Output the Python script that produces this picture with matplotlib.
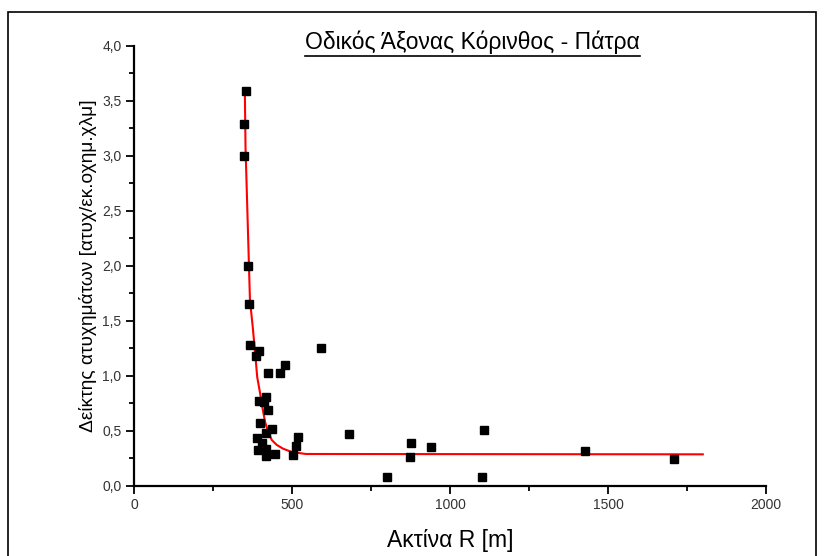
import numpy as np
import matplotlib
matplotlib.use("Agg")
import matplotlib.pyplot as plt
from matplotlib.patches import Rectangle
from matplotlib.ticker import MultipleLocator, FuncFormatter

plt.rcParams['font.family'] = ['Liberation Sans', 'DejaVu Sans']

# accident index vs. curve radius
radius = [353, 347, 348, 360, 365, 367, 396, 386, 591, 478, 462, 424,
          417, 396, 410, 423, 399, 436, 419, 520, 680, 389, 405, 512,
          394, 417, 418, 447, 502, 876, 872, 940, 1108, 1426, 1710, 800, 1100]
index = [3.59, 3.29, 3.00, 2.00, 1.65, 1.28, 1.23, 1.18, 1.25, 1.10, 1.03, 1.03,
         0.81, 0.77, 0.76, 0.69, 0.57, 0.52, 0.48, 0.445, 0.47, 0.44, 0.39, 0.36,
         0.33, 0.34, 0.27, 0.29, 0.28, 0.39, 0.26, 0.355, 0.51, 0.32, 0.245, 0.08, 0.08]

# fitted curve
fit_x = [351, 353, 356, 367, 376, 383, 390, 399, 406, 415, 425, 436, 452, 472, 499, 544, 1800]
fit_y = [3.55, 3.07, 2.78, 1.69, 1.44, 1.22, 0.99, 0.845, 0.72, 0.58, 0.49, 0.418, 0.373, 0.339, 0.309, 0.291, 0.288]

fig = plt.figure(figsize=(8.24, 5.56), dpi=100)
ax = fig.add_axes([0.1626, 0.1259, 0.767, 0.7914])

ax.plot(fit_x, fit_y, color='red', lw=1.5, zorder=2)
ax.plot(radius, index, 's', color='black', ms=5.5, zorder=3)

ax.set_xlim(0, 2000)
ax.set_ylim(0, 4.0)
ax.xaxis.set_major_locator(MultipleLocator(500))
ax.xaxis.set_minor_locator(MultipleLocator(250))
ax.yaxis.set_major_locator(MultipleLocator(0.5))
ax.yaxis.set_minor_locator(MultipleLocator(0.25))
ax.yaxis.set_major_formatter(FuncFormatter(lambda v, p: f"{v:.1f}".replace('.', ',')))

for s in ['top', 'right']:
    ax.spines[s].set_visible(False)
for s in ['left', 'bottom']:
    ax.spines[s].set_linewidth(1.6)
ax.tick_params(which='major', direction='out', length=5.5, width=1.3,
               labelsize=10, labelcolor='#333333')
ax.tick_params(which='minor', direction='out', length=3.5, width=1.3)

ax.set_xlabel('Ακτίνα R [m]', fontsize=16.5, labelpad=12)
ax.set_ylabel('Δείκτης ατυχημάτων [ατυχ/εκ.οχημ.χλμ]', fontsize=13.8, labelpad=4)

# underlined title
title = fig.text(0.573, 0.912, 'Οδικός Άξονας Κόρινθος - Πάτρα', fontsize=16.5,
                 ha='center', va='baseline')
fig.canvas.draw()
bb = title.get_window_extent().transformed(fig.transFigure.inverted())
fig.add_artist(plt.Line2D([bb.x0, bb.x1], [bb.y0 - 0.004, bb.y0 - 0.004],
                          color='black', lw=1.2, transform=fig.transFigure))

# outer frame
fig.add_artist(Rectangle((8 / 824, -0.01), 808 / 824, 1.01 - 12 / 556,
                         transform=fig.transFigure, fill=False,
                         edgecolor='black', lw=1.2))

fig.savefig('out.png', dpi=100)
